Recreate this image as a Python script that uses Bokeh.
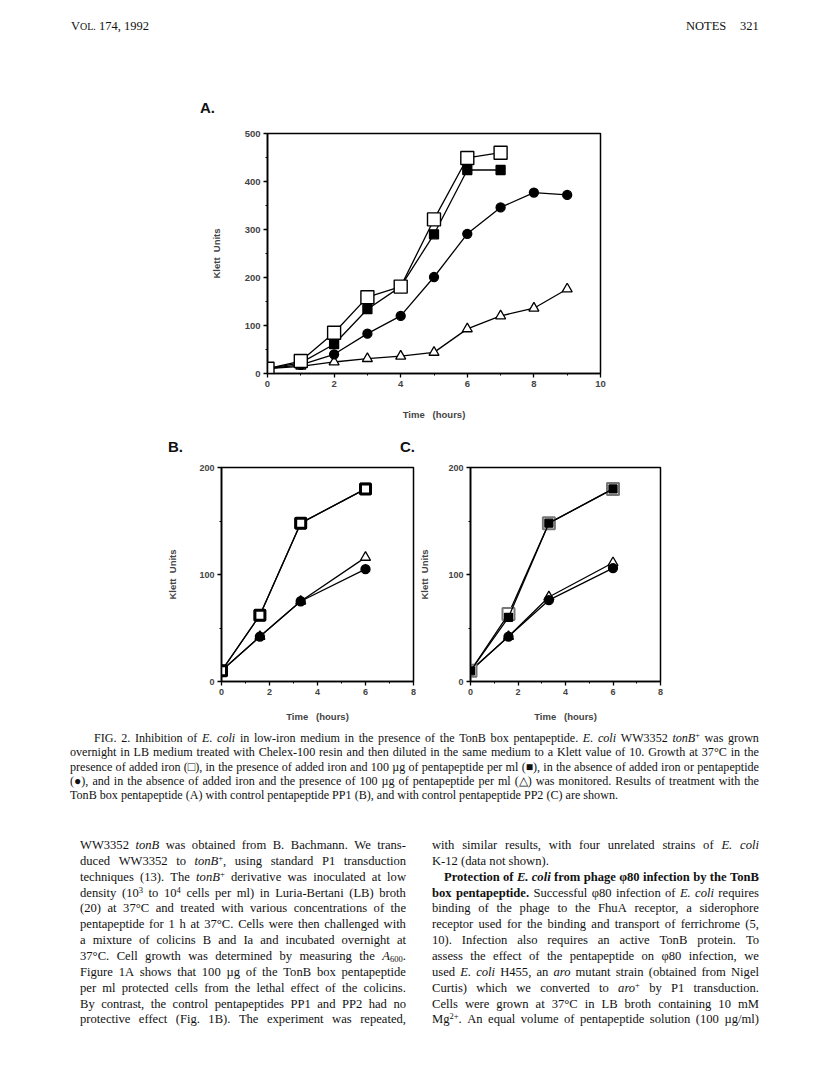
import re
from bokeh.plotting import figure
from bokeh.layouts import column, row
from bokeh.models import Range1d, FixedTicker, Div
from bokeh.embed import file_html
from bokeh.resources import INLINE

# ---------------- data ----------------
# Panel A (TonB box pentapeptide)
a_hours_iron = [0, 1, 2, 3, 4, 5, 6, 7]
a_iron = [10, 26, 85, 159, 181, 321, 449, 460]          # open squares
a_iron_pp = [10, 22, 61, 134, 181, 290, 424, 424]       # filled squares
a_hours_noiron = [0, 1, 2, 3, 4, 5, 6, 7, 8, 9]
a_noiron = [10, 18, 40, 83, 120, 201, 291, 346, 377, 372]   # filled circles
a_noiron_pp = [10, 15, 24, 31, 36, 44, 93, 120, 136, 176]   # open triangles

# Panels B (PP1) and C (PP2)
bc_hours = [0, 1.6, 3.3, 6]
b_iron = [10, 62, 148, 180]
b_iron_pp = [10, 62, 148, 180]
b_noiron = [10, 42, 75, 105]
b_noiron_pp = [10, 42, 75, 116]
c_iron = [10, 63, 148, 180]
c_iron_pp = [10, 60, 148, 180]
c_noiron = [10, 42, 76, 106]
c_noiron_pp = [10, 42, 79, 111]

a_xticks = [0, 2, 4, 6, 8, 10]
a_xminor = [1, 3, 5, 7, 9]
a_yticks = [0, 100, 200, 300, 400, 500]
a_yminor = [50, 150, 250, 350, 450]
bc_xticks = [0, 2, 4, 6, 8]
bc_xminor = [1, 3, 5, 7]
bc_yticks = [0, 100, 200]
bc_yminor = [50, 150]

SANS = "Liberation Sans"
SERIF = "Liberation Serif"


def make_fig(width, height, xr, yr, left, right, top, bottom):
    p = figure(width=width, height=height, x_range=Range1d(*xr), y_range=Range1d(*yr),
               output_backend="svg", toolbar_location=None, tools="", title=None,
               min_border_left=left, min_border_right=right,
               min_border_top=top, min_border_bottom=bottom)
    p.xgrid.visible = False
    p.ygrid.visible = False
    p.outline_line_color = "black"
    p.outline_line_width = 1.5
    p.background_fill_color = "white"
    p.border_fill_color = "white"
    return p


def style_axes(p, xt, xm, yt, ym, tick_size, label_size, xstand, ystand):
    p.xaxis.ticker = FixedTicker(ticks=xt, minor_ticks=xm)
    p.yaxis.ticker = FixedTicker(ticks=yt, minor_ticks=ym)
    for ax in list(p.xaxis) + list(p.yaxis):
        ax.axis_line_width = 1.6
        ax.major_tick_in = 0
        ax.major_tick_out = 4
        ax.major_tick_line_width = 1.3
        ax.minor_tick_in = 0
        ax.minor_tick_out = 2
        ax.minor_tick_line_width = 1
        ax.major_label_standoff = 3
        ax.major_label_text_font = SANS
        ax.major_label_text_font_style = "bold"
        ax.major_label_text_font_size = f"{tick_size}px"
        ax.axis_label_text_font = SANS
        ax.axis_label_text_font_style = "bold"
        ax.axis_label_text_font_size = f"{label_size}px"
    p.xaxis.axis_label = "Time\u00a0\u00a0\u00a0(hours)"
    p.yaxis.axis_label = "Klett\u00a0\u00a0Units"
    p.xaxis.axis_label_standoff = xstand
    p.yaxis.axis_label_standoff = ystand


def draw_series(p, x, y, marker, size, fill, line_color="black", lw=1.3):
    p.line(x, y, line_color="black", line_width=1.3)
    p.scatter(x, y, marker=marker, size=size, fill_color=fill,
              line_color=line_color, line_width=lw)


def abs_text(text, left, top, size, font, weight="normal", extra=""):
    return (f'<div style="position:absolute;left:{left}px;top:{top}px;white-space:nowrap;'
            f'font-family:\'{font}\';font-size:{size}px;line-height:{size * 1.2:.1f}px;'
            f'font-weight:{weight};{extra}">{text}</div>')


# ---------------- header + "A." ----------------
head_html = ('<div style="position:relative;width:816px;height:120px;color:#111;">'
             + abs_text('V<span style="font-size:10px">OL.</span> 174, 1992', 71, 19, 12.5, SERIF)
             + abs_text("NOTES", 686, 19, 12.5, SERIF)
             + abs_text("321", 740, 19, 12.5, SERIF)
             + abs_text("A.", 200, 99, 15, SANS, "bold")
             + "</div>")
head_div = Div(text=head_html, width=816, height=120, margin=(0, 0, 0, 0))

# ---------------- Panel A ----------------
pa = make_fig(816, 310, (0, 10), (0, 500), 267, 216, 13, 57)
style_axes(pa, a_xticks, a_xminor, a_yticks, a_yminor, 9.5, 9.5, 19, 20)
draw_series(pa, a_hours_noiron, a_noiron_pp, "triangle", 10, "white")
draw_series(pa, a_hours_noiron, a_noiron, "circle", 9, "black")
draw_series(pa, a_hours_iron, a_iron_pp, "square", 9, "black")
draw_series(pa, a_hours_iron, a_iron, "square", 13, "white", lw=1.4)

# ---------------- "B." / "C." ----------------
bc_html = ('<div style="position:relative;width:816px;height:28px;color:#111;">'
           + abs_text("B.", 168, 8, 15, SANS, "bold")
           + abs_text("C.", 400, 8, 15, SANS, "bold")
           + "</div>")
bc_div = Div(text=bc_html, width=816, height=28, margin=(0, 0, 0, 0))

# ---------------- Panel B ----------------
pb = make_fig(416, 267, (0, 8), (0, 200), 221, 3, 9, 44)
style_axes(pb, bc_xticks, bc_xminor, bc_yticks, bc_yminor, 9, 9.5, 13, 18)
draw_series(pb, bc_hours, b_noiron_pp, "triangle", 10, "white")
draw_series(pb, bc_hours, b_noiron, "circle", 9, "black")
draw_series(pb, bc_hours, b_iron_pp, "square", 11, "black")
draw_series(pb, bc_hours, b_iron, "square", 10, "white", lw=3)

# ---------------- Panel C ----------------
pc = make_fig(400, 267, (0, 8), (0, 200), 53, 156, 9, 44)
style_axes(pc, bc_xticks, bc_xminor, bc_yticks, bc_yminor, 9, 9.5, 13, 15)
draw_series(pc, bc_hours, c_noiron_pp, "triangle", 10, "white")
draw_series(pc, bc_hours, c_noiron, "circle", 9, "black")
draw_series(pc, bc_hours, c_iron, "square", 12, "white", line_color="#777777", lw=2)
draw_series(pc, bc_hours, c_iron_pp, "square", 8, "black")

# ---------------- Text ----------------
caption_lines = [
    "FIG. 2. Inhibition of <i>E. coli</i> in low-iron medium in the presence of the TonB box pentapeptide. <i>E. coli</i> WW3352 <i>tonB</i><sup>+</sup> was grown",
    "overnight in LB medium treated with Chelex-100 resin and then diluted in the same medium to a Klett value of 10. Growth at 37°C in the",
    "presence of added iron (\u25a1), in the presence of added iron and 100 \u00b5g of pentapeptide per ml (\u25a0), in the absence of added iron or pentapeptide",
    "(\u25cf), and in the absence of added iron and the presence of 100 \u00b5g of pentapeptide per ml (\u25b3) was monitored. Results of treatment with the",
    "TonB box pentapeptide (A) with control pentapeptide PP1 (B), and with control pentapeptide PP2 (C) are shown.",
]
left_lines = [
    "WW3352 <i>tonB</i> was obtained from B. Bachmann. We trans-",
    "duced WW3352 to <i>tonB</i><sup>+</sup>, using standard P1 transduction",
    "techniques (13). The <i>tonB</i><sup>+</sup> derivative was inoculated at low",
    "density (10<sup>3</sup> to 10<sup>4</sup> cells per ml) in Luria-Bertani (LB) broth",
    "(20) at 37°C and treated with various concentrations of the",
    "pentapeptide for 1 h at 37°C. Cells were then challenged with",
    "a mixture of colicins B and Ia and incubated overnight at",
    "37°C. Cell growth was determined by measuring the <i>A</i><sub>600</sub>.",
    "Figure 1A shows that 100 \u00b5g of the TonB box pentapeptide",
    "per ml protected cells from the lethal effect of the colicins.",
    "By contrast, the control pentapeptides PP1 and PP2 had no",
    "protective effect (Fig. 1B). The experiment was repeated,",
]
right_lines = [
    "with similar results, with four unrelated strains of <i>E. coli</i>",
    "K-12 (data not shown).",
    "<b>Protection of <i>E. coli</i> from phage \u03c680 infection by the TonB</b>",
    "<b>box pentapeptide.</b> Successful \u03c680 infection of <i>E. coli</i> requires",
    "binding of the phage to the FhuA receptor, a siderophore",
    "receptor used for the binding and transport of ferrichrome (5,",
    "10). Infection also requires an active TonB protein. To",
    "assess the effect of the pentapeptide on \u03c680 infection, we",
    "used <i>E. coli</i> H455, an <i>aro</i> mutant strain (obtained from Nigel",
    "Curtis) which we converted to <i>aro</i><sup>+</sup> by P1 transduction.",
    "Cells were grown at 37°C in LB broth containing 10 mM",
    "Mg<sup>2+</sup>. An equal volume of pentapeptide solution (100 \u00b5g/ml)",
]


def split_words(html):
    out, open_tags = [], []
    for w in html.split(" "):
        prefix = "".join(f"<{t}>" for t in open_tags)
        for m in re.finditer(r"<(/?)(\w+)>", w):
            if m.group(1):
                if m.group(2) in open_tags:
                    open_tags.remove(m.group(2))
            else:
                open_tags.append(m.group(2))
        suffix = "".join(f"</{t}>" for t in reversed(open_tags))
        out.append(prefix + w + suffix)
    return out


def line_div(html, left, top, width, size, lh, justify):
    if justify:
        inner = "".join(f"<span>{w}</span>" for w in split_words(html))
        disp = "display:flex;justify-content:space-between;"
    else:
        inner = html
        disp = ""
    return (f'<div style="position:absolute;left:{left:.1f}px;top:{top:.1f}px;width:{width:.1f}px;'
            f'{disp}white-space:nowrap;font-size:{size}px;line-height:{lh}px;">{inner}</div>')


parts = []
cap_left, cap_right, cap_top, cap_lh = 70, 759, 6, 14.3
for i, ln in enumerate(caption_lines):
    indent = 24 if i == 0 else 0
    parts.append(line_div(ln, cap_left + indent, cap_top + i * cap_lh,
                          cap_right - cap_left - indent, 12.1, cap_lh, i < len(caption_lines) - 1))
body_top, body_lh = 113, 15.85
for i, ln in enumerate(left_lines):
    parts.append(line_div(ln, 80, body_top + i * body_lh, 326, 12.6, body_lh, True))
for i, ln in enumerate(right_lines):
    indent = 12 if i == 2 else 0
    parts.append(line_div(ln, 432 + indent, body_top + i * body_lh, 327 - indent, 12.6, body_lh, i != 1))

style = ("<style>sup{font-size:0.68em;vertical-align:0.5em;line-height:0}"
         "sub{font-size:0.68em;vertical-align:-0.25em;line-height:0}</style>")
html = (style + f'<div style="position:relative;width:816px;height:340px;font-family:\'{SERIF}\';color:#111;">'
        + "".join(parts) + "</div>")
text_div = Div(text=html, width=816, height=340, margin=(0, 0, 0, 0))

layout = column(head_div, pa, bc_div, row(pb, pc), text_div)
open("out.html", "w").write(file_html(layout, INLINE))
